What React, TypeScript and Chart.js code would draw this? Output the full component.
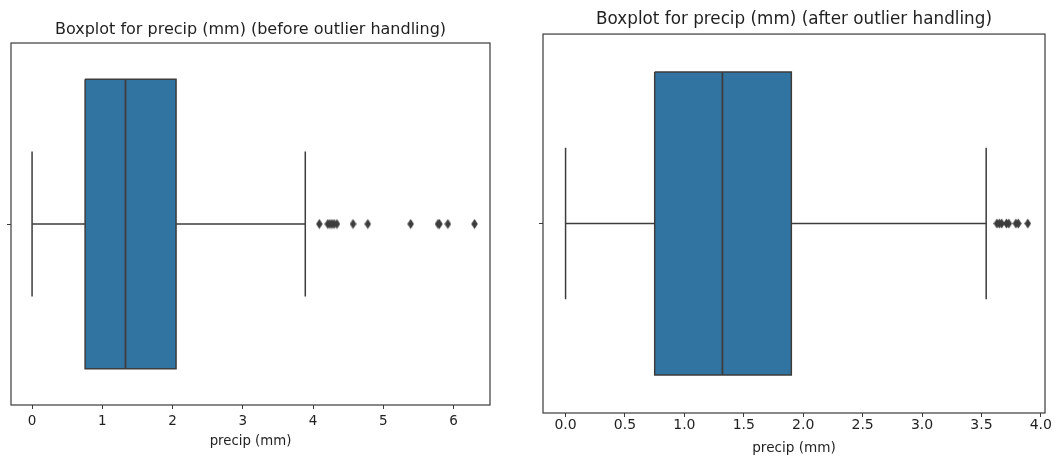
import React, { useEffect, useRef } from "react";
import { Chart, registerables } from "chart.js";

Chart.register(...registerables);

// ---- data ----
// quartiles: Q1, median, Q3 ; whiskers: low, high
const beforeQuartiles = [0.755, 1.33, 2.05];
const beforeWhiskers = [0.0, 3.89];
const beforeOutliers = [4.09, 4.21, 4.24, 4.27, 4.3, 4.34, 4.57, 4.78, 5.39, 5.78, 5.8, 5.92, 6.3];
const beforeTicks = [0, 1, 2, 3, 4, 5, 6];
const beforeRange = [-0.3, 6.52];

const afterQuartiles = [0.75, 1.32, 1.9];
const afterWhiskers = [0.0, 3.54];
const afterOutliers = [3.63, 3.65, 3.67, 3.71, 3.73, 3.79, 3.81, 3.89];
const afterTicks = [0, 0.5, 1.0, 1.5, 2.0, 2.5, 3.0, 3.5, 4.0];
const afterRange = [-0.19, 4.035];

const BOX_HALF = 0.4;
const CAP_HALF = 0.2;
const BOX_COLOR = "#3274a1";
const LINE_COLOR = "#3d3d3d";
const TEXT_COLOR = "#1f1f1f";
const FONT = "'DejaVu Sans', sans-serif";

function makeDiamond(): HTMLCanvasElement {
  const c = document.createElement("canvas");
  c.width = 7;
  c.height = 11;
  const ctx = c.getContext("2d")!;
  ctx.fillStyle = LINE_COLOR;
  ctx.beginPath();
  ctx.moveTo(3.5, 0.5);
  ctx.lineTo(6.8, 5.5);
  ctx.lineTo(3.5, 10.5);
  ctx.lineTo(0.2, 5.5);
  ctx.closePath();
  ctx.fill();
  return c;
}

const framePlugin = {
  id: "frame",
  afterDatasetsDraw(chart: any) {
    const { ctx, chartArea } = chart;
    ctx.save();
    ctx.strokeStyle = "#3a3a3a";
    ctx.lineWidth = 1.2;
    ctx.strokeRect(chartArea.left, chartArea.top, chartArea.right - chartArea.left, chartArea.bottom - chartArea.top);
    ctx.restore();
  },
};

type PanelProps = {
  title: string;
  quartiles: number[];
  whiskers: number[];
  outliers: number[];
  ticks: number[];
  range: number[];
  decimals: number;
  width: number;
  height: number;
  yAxisWidth: number;
  padRight: number;
  titleSize: number;
  tickSize: number;
  labelSize: number;
  titlePadTop: number;
  titlePadBottom: number;
  xAxisHeight: number;
  tickPad: number;
  labelPad: number;
};

function BoxPanel(p: PanelProps) {
  const ref = useRef<HTMLCanvasElement | null>(null);
  useEffect(() => {
    if (!ref.current) return;
    const [q1, med, q3] = p.quartiles;
    const [wlo, whi] = p.whiskers;
    const line = (data: { x: number; y: number }[], w = 1.5) => ({
      data,
      showLine: true,
      borderColor: LINE_COLOR,
      borderWidth: w,
      pointRadius: 0,
      fill: false,
      tension: 0,
    });
    const chart = new Chart(ref.current, {
      type: "line",
      data: {
        datasets: [
          {
            data: p.outliers.map((x) => ({ x, y: 0 })),
            showLine: false,
            pointStyle: makeDiamond(),
            pointRadius: 4,
            borderWidth: 0,
          } as any,
          line([{ x: med, y: -BOX_HALF }, { x: med, y: BOX_HALF }], 1.8),
          line([{ x: wlo, y: -CAP_HALF }, { x: wlo, y: CAP_HALF }]),
          line([{ x: whi, y: -CAP_HALF }, { x: whi, y: CAP_HALF }]),
          line([{ x: wlo, y: 0 }, { x: q1, y: 0 }]),
          line([{ x: q3, y: 0 }, { x: whi, y: 0 }]),
          {
            ...line([
              { x: q1, y: -BOX_HALF },
              { x: q3, y: -BOX_HALF },
              { x: q3, y: BOX_HALF },
              { x: q1, y: BOX_HALF },
              { x: q1, y: -BOX_HALF },
            ]),
            fill: "shape",
            backgroundColor: BOX_COLOR,
          } as any,
        ],
      },
      options: {
        animation: false,
        responsive: false,
        layout: { padding: { left: 0, right: p.padRight, top: 0, bottom: 0 } },
        plugins: {
          legend: { display: false },
          tooltip: { enabled: false },
          title: {
            display: true,
            text: p.title,
            fullSize: false,
            color: TEXT_COLOR,
            font: { family: FONT, size: p.titleSize, weight: "normal" },
            padding: { top: p.titlePadTop, bottom: p.titlePadBottom },
          },
        },
        scales: {
          x: {
            type: "linear",
            min: p.range[0],
            max: p.range[1],
            afterBuildTicks: (scale: any) => {
              scale.ticks = p.ticks.map((v) => ({ value: v }));
            },
            afterFit: (scale: any) => {
              scale.height = p.xAxisHeight;
            },
            grid: { drawOnChartArea: false, drawTicks: true, tickLength: 4, color: "#3a3a3a" },
            border: { display: false },
            ticks: {
              color: TEXT_COLOR,
              font: { family: FONT, size: p.tickSize },
              padding: p.tickPad,
              maxRotation: 0,
              autoSkip: false,
              callback: (v: any) => Number(v).toFixed(p.decimals),
            },
            title: {
              display: true,
              text: "precip (mm)",
              color: TEXT_COLOR,
              font: { family: FONT, size: p.labelSize },
              padding: { top: p.labelPad, bottom: p.labelPad },
            },
          },
          y: {
            type: "linear",
            min: -0.5,
            max: 0.5,
            reverse: true,
            afterBuildTicks: (scale: any) => {
              scale.ticks = [{ value: 0 }];
            },
            afterFit: (scale: any) => {
              scale.width = p.yAxisWidth;
            },
            grid: { drawOnChartArea: false, drawTicks: true, tickLength: 4, color: "#3a3a3a" },
            border: { display: false },
            ticks: { callback: () => "", padding: 0 },
          },
        },
      } as any,
      plugins: [framePlugin],
    });
    return () => chart.destroy();
  }, []);
  return <canvas ref={ref} width={p.width} height={p.height} style={{ width: p.width, height: p.height, display: "block" }} />;
}

export default function App() {
  return (
    <div style={{ position: "fixed", left: 0, top: 0, width: 1059, height: 457, background: "#fff" }}>
      <div style={{ position: "absolute", left: 0, top: 0 }}>
        <BoxPanel
          title="Boxplot for precip (mm) (before outlier handling)"
          quartiles={beforeQuartiles}
          whiskers={beforeWhiskers}
          outliers={beforeOutliers}
          ticks={beforeTicks}
          range={beforeRange}
          decimals={0}
          width={530}
          height={457}
          yAxisWidth={11}
          padRight={40}
          titleSize={16}
          tickSize={13.5}
          labelSize={13.3}
          titlePadTop={20.4}
          titlePadBottom={3.4}
          xAxisHeight={52}
          tickPad={4}
          labelPad={7.5}
        />
      </div>
      <div style={{ position: "absolute", left: 530, top: 0 }}>
        <BoxPanel
          title="Boxplot for precip (mm) (after outlier handling)"
          quartiles={afterQuartiles}
          whiskers={afterWhiskers}
          outliers={afterOutliers}
          ticks={afterTicks}
          range={afterRange}
          decimals={1}
          width={529}
          height={457}
          yAxisWidth={13}
          padRight={14}
          titleSize={16.8}
          tickSize={14}
          labelSize={13.6}
          titlePadTop={9.9}
          titlePadBottom={4}
          xAxisHeight={44}
          tickPad={0}
          labelPad={0}
        />
      </div>
    </div>
  );
}
